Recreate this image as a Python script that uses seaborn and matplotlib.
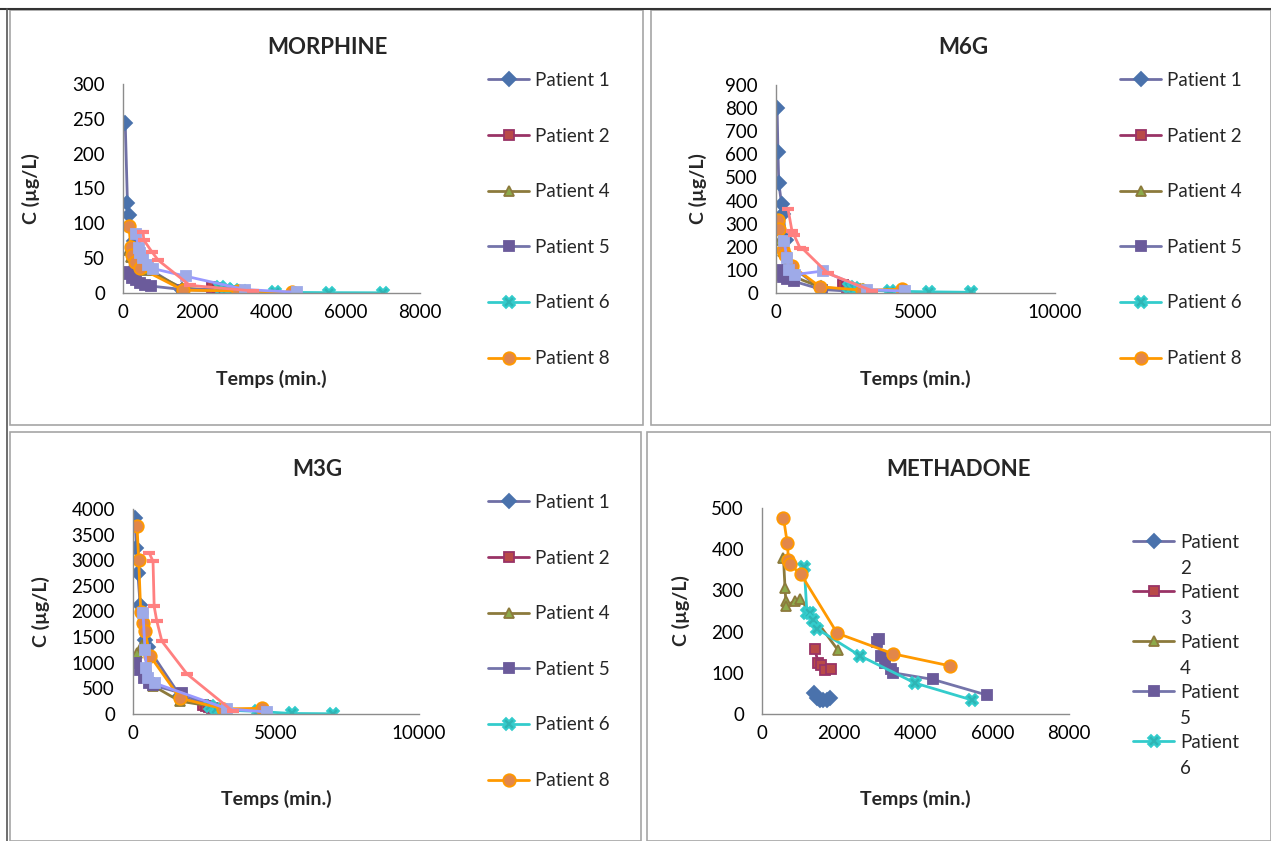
import matplotlib
matplotlib.use("Agg")
import seaborn as sns
from matplotlib import pyplot as plt
from matplotlib.patches import Rectangle
from matplotlib.lines import Line2D

# concentration curves (time in min., C in ug/L)
morphine_t = {
    "Patient 1": [60, 120, 160, 300, 420, 600, 1600, 2900],
    "Patient 2": [2400, 2550, 2700, 2850, 3000],
    "Patient 4": [150, 220, 300, 450, 650, 1600, 2900],
    "Patient 5": [100, 150, 250, 350, 450, 600, 750, 1600, 2700, 2900, 3100],
    "Patient 6": [2600, 2800, 3000, 3200, 4100, 5550, 7000],
    "Patient 8": [160, 210, 250, 330, 450, 1620, 3100, 4550],
    "Patient 9": [350, 420, 470, 540, 670, 810, 1700, 3280, 4680],
    "Patient 10": [540, 560, 780, 950, 1800, 3500],
}
morphine_c = {
    "Patient 1": [244, 129, 112, 75, 50, 38, 5, 2],
    "Patient 2": [9, 7, 5, 3, 2],
    "Patient 4": [62, 52, 45, 38, 33, 7, 3],
    "Patient 5": [30, 27, 22, 18, 15, 12, 10, 5, 5, 3, 1],
    "Patient 6": [8, 6, 4, 3, 1, 0.5, 0.3],
    "Patient 8": [96, 66, 55, 45, 36, 4, 3, 1],
    "Patient 9": [85, 65, 58, 50, 40, 35, 24, 5, 1],
    "Patient 10": [88, 76, 59, 47, 11, 3],
}

m6g_t = {
    "Patient 1": [40, 70, 100, 200, 260, 350, 500, 1600, 3000],
    "Patient 2": [2400, 2550, 2700, 2900, 3050],
    "Patient 4": [150, 250, 400, 650, 1600, 3000],
    "Patient 5": [80, 150, 250, 400, 650, 1650, 3050],
    "Patient 6": [2600, 2800, 3000, 4100, 5500, 7000],
    "Patient 8": [70, 110, 250, 320, 570, 1580, 3080, 4520],
    "Patient 9": [290, 390, 470, 680, 1680, 3260, 4620],
    "Patient 10": [430, 570, 650, 860, 970, 1860, 3440],
}
m6g_c = {
    "Patient 1": [800, 610, 476, 385, 342, 230, 120, 20, 8],
    "Patient 2": [35, 25, 18, 10, 5],
    "Patient 4": [230, 180, 100, 70, 25, 10],
    "Patient 5": [100, 80, 70, 60, 50, 15, 5],
    "Patient 6": [28, 20, 15, 8, 5, 3],
    "Patient 8": [316, 277, 186, 165, 117, 27, 12, 16],
    "Patient 9": [225, 150, 100, 80, 95, 15, 8],
    "Patient 10": [364, 270, 250, 195, 190, 85, 10],
}

m3g_t = {
    "Patient 1": [70, 120, 170, 250, 420, 520, 1650, 3100],
    "Patient 2": [2450, 2550, 2650, 2750],
    "Patient 4": [130, 300, 450, 700, 1640, 3100],
    "Patient 5": [100, 250, 400, 550, 700, 1700, 3100],
    "Patient 6": [2700, 2900, 3100, 4370, 5550, 7000],
    "Patient 8": [140, 200, 270, 340, 420, 590, 1640, 3150, 4500],
    "Patient 9": [350, 420, 470, 540, 770, 3300, 4680],
    "Patient 10": [560, 700, 740, 830, 1010, 1890, 3500],
}
m3g_c = {
    "Patient 1": [3820, 3240, 2750, 2125, 1450, 1300, 350, 50],
    "Patient 2": [180, 150, 130, 110],
    "Patient 4": [1200, 1350, 1300, 550, 250, 120],
    "Patient 5": [1000, 850, 700, 600, 560, 410, 30],
    "Patient 6": [150, 100, 80, 50, 10, 5],
    "Patient 8": [3670, 3000, 2000, 1780, 1620, 1140, 310, 100, 110],
    "Patient 9": [1980, 1240, 900, 700, 600, 100, 40],
    "Patient 10": [3150, 2980, 2100, 1820, 1420, 780, 50],
}

metha_t = {
    "Patient 2": [1360, 1430, 1500, 1600, 1700, 1760],
    "Patient 3": [1380, 1460, 1540, 1630, 1810],
    "Patient 4": [560, 600, 620, 620, 860, 990, 1980],
    "Patient 5": [3000, 3040, 3100, 3200, 3350, 3420, 4450, 5860],
    "Patient 6": [1100, 1170, 1250, 1330, 1430, 2560, 3990, 5470],
    "Patient 8": [560, 660, 690, 720, 1010, 1960, 3420, 4890],
}
metha_c = {
    "Patient 2": [52, 40, 35, 33, 35, 38],
    "Patient 3": [157, 125, 120, 108, 110],
    "Patient 4": [378, 306, 275, 262, 275, 280, 155],
    "Patient 5": [175, 183, 140, 125, 110, 100, 84, 46],
    "Patient 6": [358, 246, 245, 228, 207, 141, 75, 34],
    "Patient 8": [476, 414, 375, 363, 340, 196, 146, 117],
}

# excel-like series styles: marker, line colour, face, edge, size
styles = [
    ("D", "#6F6FA5", "#4A72AC", "#4A72AC", 7),
    ("s", "#993366", "#B94A48", "#993366", 7),
    ("^", "#8C7A3C", "#8DAA4B", "#8C7A3C", 7.5),
    ("s", "#7474AA", "#6B5B9B", "#6B5B9B", 7),
    ("X", "#33CCCC", "#2FB5B5", "#33CCCC", 8),
    ("o", "#FF9900", "#E2874A", "#FF9900", 9),
    ("s", "#9999FF", "#9EAAE8", "#9EAAE8", 7),
    ("_", "#FF8080", "#FF8080", "#FF8080", 9),
]

W, H = 1271, 841
fig = plt.figure(figsize=(W / 100, H / 100), dpi=100)
sns.set_style("white")
plt.rcParams["font.family"] = ["Lato", "DejaVu Sans"]


def fx(x):
    return x / W


def fy(y):
    return 1 - y / H


# panel frames
grey = "#A6A6A6"
for x0, y0, x1, y1 in [(10, 10, 643, 425), (651, 10, 1271, 425),
                       (10, 432, 641, 841), (647, 432, 1271, 841)]:
    fig.add_artist(Rectangle((fx(x0), fy(y1)), fx(x1 - x0), (y1 - y0) / H,
                             fill=False, edgecolor=grey, lw=1.2))
fig.add_artist(Line2D([0, 1], [fy(9), fy(9)], color="#333333", lw=1.5))
fig.add_artist(Line2D([fx(7), fx(7)], [0, fy(9)], color="#555555", lw=1.2))


def panel(box, times, concs, xmax, xstep, ymax, ystep, title, title_xy,
          ylab_x, leg_xy, leg_space, short_labels=False):
    l, r, t, b = box
    ax = fig.add_axes([fx(l), fy(b), fx(r - l), (b - t) / H])
    names = list(times.keys())
    for i, name in enumerate(names):
        mk, lc, fc, ec, ms = styles[i]
        sns.lineplot(x=times[name], y=concs[name], ax=ax, estimator=None, sort=False,
                     color=lc, lw=2, marker=mk, markersize=ms, markerfacecolor=fc,
                     markeredgecolor=ec, markeredgewidth=1.3 if mk != "_" else 3,
                     label=name)
    ax.set_xlim(0, xmax)
    ax.set_ylim(0, ymax)
    ax.set_xticks(range(0, xmax + 1, xstep))
    ax.set_yticks(range(0, ymax + 1, ystep))
    for s in ["top", "right"]:
        ax.spines[s].set_visible(False)
    for s in ["left", "bottom"]:
        ax.spines[s].set_color("#8C8C8C")
        ax.spines[s].set_linewidth(1)
    ax.tick_params(axis="both", direction="out", length=5, width=1, color="#8C8C8C",
                   labelsize=13.5, labelcolor="black")
    ax.tick_params(axis="y", pad=8)
    ax.tick_params(axis="x", pad=3)
    ax.set_xlabel("Temps (min.)", fontsize=14, fontweight="bold")
    ax.set_ylabel("C (µg/L)", fontsize=14, fontweight="bold")
    ax.xaxis.set_label_coords(0.5, -0.37)
    ax.yaxis.set_label_coords((ylab_x + 10 - l) / (r - l), 0.5)
    fig.text(fx(title_xy[0]), fy(title_xy[1]), title, ha="center", va="center",
             fontsize=16, fontweight="bold")

    handles, labels = ax.get_legend_handles_labels()
    shown = [(h, lab) for h, lab in zip(handles, labels) if lab not in ("Patient 9", "Patient 10")]
    if short_labels:
        shown = shown[:5]
    hs = [h for h, _ in shown]
    labs = ["Patient" if short_labels else lab for _, lab in shown]
    ax.legend(hs, labs, loc="upper left", bbox_to_anchor=(fx(leg_xy[0]), fy(leg_xy[1])),
              bbox_transform=fig.transFigure, frameon=False, fontsize=13.5,
              handlelength=2.2, handletextpad=0.3, labelspacing=leg_space,
              borderpad=0, borderaxespad=0)
    if short_labels:
        for k, (_, lab) in enumerate(shown):
            fig.text(fx(leg_xy[0] + 47), fy(leg_xy[1] + 34 + 50 * k), lab.split()[1],
                     ha="left", va="center", fontsize=13.5)
    return ax


panel((123, 420, 84, 293), morphine_t, morphine_c, 8000, 2000, 300, 50,
      "MORPHINE", (327, 47), 30, (488, 72), 2.06)
panel((776, 1055, 85, 293), m6g_t, m6g_c, 10000, 5000, 900, 100,
      "M6G", (963, 47), 697, (1120, 72), 2.06)
panel((133, 419, 509, 714), m3g_t, m3g_c, 10000, 5000, 4000, 500,
      "M3G", (317, 469), 40, (488, 494), 2.06)
panel((762, 1069, 508, 714), metha_t, metha_c, 8000, 2000, 500, 100,
      "METHADONE", (958, 469), 680, (1133, 534), 1.76, short_labels=True)

plt.savefig("out.png", dpi=100)
